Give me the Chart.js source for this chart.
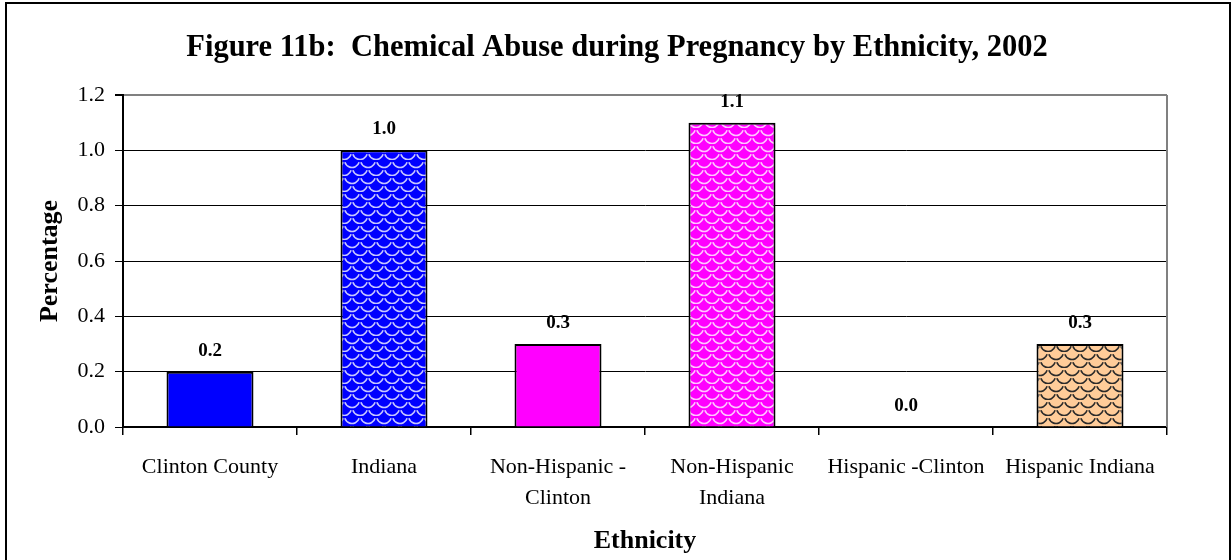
<!DOCTYPE html>
<html>
<head>
<meta charset="utf-8">
<script src="https://cdn.jsdelivr.net/npm/chart.js@4"></script>
<style>
html,body{margin:0;padding:0;background:#fff;}
#wrap{width:1232px;height:560px;position:relative;}
</style>
</head>
<body>
<div id="wrap"><canvas id="c" width="1232" height="560"></canvas></div>
<script>
const chartTitle = "Figure 11b:  Chemical Abuse during Pregnancy by Ethnicity, 2002";
const xAxisTitle = "Ethnicity";
const yAxisTitle = "Percentage";
const categories = [
  ["Clinton County"],
  ["Indiana"],
  ["Non-Hispanic -", "Clinton"],
  ["Non-Hispanic", "Indiana"],
  ["Hispanic -Clinton"],
  ["Hispanic Indiana"]
];
const values = [0.2, 1.0, 0.3, 1.1, 0.0, 0.3];
const yTicks = [0, 0.2, 0.4, 0.6, 0.8, 1.0, 1.2];

const FONT = "'Liberation Serif', 'Times New Roman', serif";

function makePattern(bg, fg) {
  const t = document.createElement('canvas');
  t.width = 16; t.height = 16;
  const g = t.getContext('2d');
  g.fillStyle = bg; g.fillRect(0, 0, 16, 16);
  g.strokeStyle = fg; g.lineWidth = 1.6;
  const centers = [[0,0],[16,0],[8,8],[0,16],[16,16],[-8,8],[24,8]];
  for (const [cx, cy] of centers) {
    g.beginPath();
    g.arc(cx, cy, 7.5, 0.1 * Math.PI, 0.9 * Math.PI);
    g.stroke();
  }
  return g.createPattern(t, 'repeat');
}

const fills = [
  '#0000FF',
  makePattern('#0000FF', '#C8C8FF'),
  '#FF00FF',
  makePattern('#FF00FF', '#FFC8FF'),
  '#FF00FF',
  makePattern('#FFCC99', '#2A2A2A')
];

const decor = {
  id: 'decor',
  beforeDraw(chart) {
    const ctx = chart.ctx;
    ctx.save();
    ctx.fillStyle = '#fff';
    ctx.fillRect(0, 0, chart.width, chart.height);
    ctx.restore();
  },
  afterDraw(chart) {
    const ctx = chart.ctx;
    const a = chart.chartArea;
    ctx.save();
    ctx.strokeStyle = '#000';
    ctx.lineWidth = 2;
    ctx.beginPath();
    ctx.moveTo(6, 570); ctx.lineTo(6, 3); ctx.lineTo(1230, 3); ctx.lineTo(1230, 570);
    ctx.stroke();
    ctx.strokeStyle = '#808080';
    ctx.lineWidth = 2;
    ctx.beginPath();
    ctx.moveTo(a.right, a.top); ctx.lineTo(a.right, a.bottom);
    ctx.stroke();
    ctx.fillStyle = '#000';
    ctx.textAlign = 'center';
    ctx.textBaseline = 'middle';
    ctx.font = "bold 30.5px " + FONT;
    ctx.fillText(chartTitle, 617, 48);
    ctx.font = "bold 26px " + FONT;
    ctx.fillText(xAxisTitle, (a.left + a.right) / 2, 541);
    ctx.translate(50, (a.top + a.bottom) / 2);
    ctx.rotate(-Math.PI / 2);
    ctx.fillText(yAxisTitle, 0, 0);
    ctx.restore();
  },
  afterDatasetsDraw(chart) {
    const ctx = chart.ctx;
    const meta = chart.getDatasetMeta(0);
    ctx.save();
    ctx.fillStyle = '#000';
    ctx.textAlign = 'center';
    ctx.textBaseline = 'middle';
    ctx.font = "bold 19px " + FONT;
    meta.data.forEach((el, i) => {
      ctx.fillText(values[i].toFixed(1), el.x, el.y - 21);
    });
    ctx.restore();
  }
};

new Chart(document.getElementById('c'), {
  type: 'bar',
  data: {
    labels: categories,
    datasets: [{
      data: values,
      backgroundColor: fills,
      borderColor: '#000',
      borderWidth: 2,
      borderSkipped: 'bottom',
      categoryPercentage: 1.0,
      barPercentage: 0.5
    }]
  },
  options: {
    responsive: false,
    animation: false,
    devicePixelRatio: 1,
    layout: { padding: { top: 95, right: 65, left: 0, bottom: 0 } },
    plugins: { legend: { display: false }, title: { display: false }, tooltip: { enabled: false } },
    scales: {
      x: {
        afterFit(s) { s.height = 133; },
        grid: { offset: true, drawOnChartArea: false, drawTicks: true, tickLength: 8, color: '#000', lineWidth: 1.5 },
        border: { color: '#000', width: 2 },
        ticks: { color: '#000', font: { family: FONT, size: 22, lineHeight: 1.4 }, padding: 17, maxRotation: 0, autoSkip: false }
      },
      y: {
        min: 0, max: 1.2,
        afterFit(s) { s.width = 123; },
        afterBuildTicks(s) { s.ticks = yTicks.map(v => ({ value: v })); },
        grid: {
          color: c => (c.tick && Math.abs(c.tick.value - 1.2) < 1e-9) ? '#808080' : '#000',
          tickColor: '#000',
          lineWidth: c => (c.tick && Math.abs(c.tick.value - 1.2) < 1e-9) ? 2 : 1,
          tickLength: 8
        },
        border: { color: '#000', width: 2 },
        ticks: { color: '#000', font: { family: FONT, size: 22 }, padding: 10, callback: v => Number(v).toFixed(1) }
      }
    }
  },
  plugins: [decor]
});
</script>
</body>
</html>
